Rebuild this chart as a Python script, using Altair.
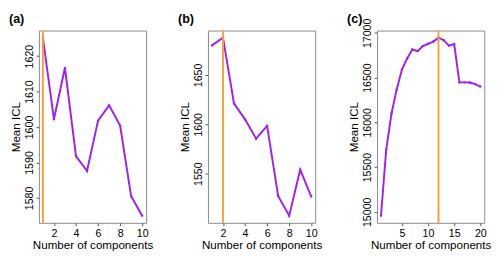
import altair as alt
import pandas as pd

# Panel (a)
a_k = [1, 2, 3, 4, 5, 6, 7, 8, 9, 10]
a_icl = [1625.2, 1602.2, 1616.7, 1591.8, 1587.6, 1601.8, 1606.1, 1600.4, 1580.5, 1575.0]
a_best = 1

# Panel (b)
b_k = [1, 2, 3, 4, 5, 6, 7, 8, 9, 10]
b_icl = [1680.0, 1687.8, 1621.0, 1605.0, 1585.5, 1598.4, 1527.5, 1507.4, 1554.0, 1526.8]
b_best = 2

# Panel (c)
c_k = list(range(1, 21))
c_icl = [14957, 15697, 16096, 16368, 16589, 16714, 16814, 16796, 16853, 16878,
         16903, 16946, 16918, 16857, 16875, 16447, 16447, 16445, 16428, 16400]
c_best = 12

PURPLE = "#A020F0"
ORANGE = "#F9A132"
FONT = "Liberation Sans"


def panel(label, ks, vals, best, xticks, yticks):
    df = pd.DataFrame({"k": ks, "icl": vals})
    xr = max(ks) - min(ks)
    yr = max(vals) - min(vals)
    xdom = [min(ks) - 0.04 * xr, max(ks) + 0.04 * xr]
    ydom = [min(vals) - 0.04 * yr, max(vals) + 0.04 * yr]
    xs = alt.Scale(domain=xdom, nice=False, zero=False)
    ys = alt.Scale(domain=ydom, nice=False, zero=False)
    xax = alt.Axis(values=xticks, title="Number of components", grid=False,
                   domain=False, tickSize=3, tickColor="#555", labelPadding=2,
                   labelFontSize=11, titleFontSize=12, titleFontWeight="normal",
                   labelColor="black", titleColor="black", titlePadding=2,
                   labelOverlap=False, labelFlush=False, labelBound=False,
                   labelFont=FONT, titleFont=FONT, format="d")
    yax = alt.Axis(values=yticks, title="Mean ICL", grid=False, domain=False,
                   tickSize=3, tickColor="#555", labelAngle=270, labelAlign="center",
                   labelBaseline="bottom", labelPadding=2, labelFontSize=11,
                   titleFontSize=12, titleFontWeight="normal", labelColor="black",
                   titleColor="black", titlePadding=1, labelOverlap=False,
                   labelFlush=False, labelBound=False,
                   labelFont=FONT, titleFont=FONT, format="d")
    X = alt.X("k:Q", scale=xs, axis=xax)
    Y = alt.Y("icl:Q", scale=ys, axis=yax)
    line = alt.Chart(df).mark_line(color=PURPLE, strokeWidth=2, clip=True).encode(x=X, y=Y)
    pts = alt.Chart(df).mark_point(color=PURPLE, filled=True, size=6, opacity=1).encode(x=X, y=Y)
    rule = alt.Chart(pd.DataFrame({"k": [best]})).mark_rule(
        color=ORANGE, strokeWidth=2).encode(x=X)
    lab = alt.Chart(pd.DataFrame({"t": [label]})).mark_text(
        font=FONT, fontSize=13, fontWeight="bold", align="left", baseline="middle",
        color="black").encode(text="t:N", x=alt.value(-31), y=alt.value(-12))
    return alt.layer(line, pts, rule, lab).properties(width=111, height=199)


pa = panel("(a)", a_k, a_icl, a_best, [2, 4, 6, 8, 10], [1580, 1590, 1600, 1610, 1620])
pb = panel("(b)", b_k, b_icl, b_best, [2, 4, 6, 8, 10], [1550, 1600, 1650])
pc = panel("(c)", c_k, c_icl, c_best, [5, 10, 15, 20], [15000, 15500, 16000, 16500, 17000])

chart = alt.hconcat(pa, pb, pc, spacing=24).properties(
    padding={"left": 0, "top": 0, "right": 0, "bottom": 0}
).configure_view(stroke="#888888", strokeWidth=1)

chart.save("out.html", embed_options={"renderer": "svg", "actions": False})
